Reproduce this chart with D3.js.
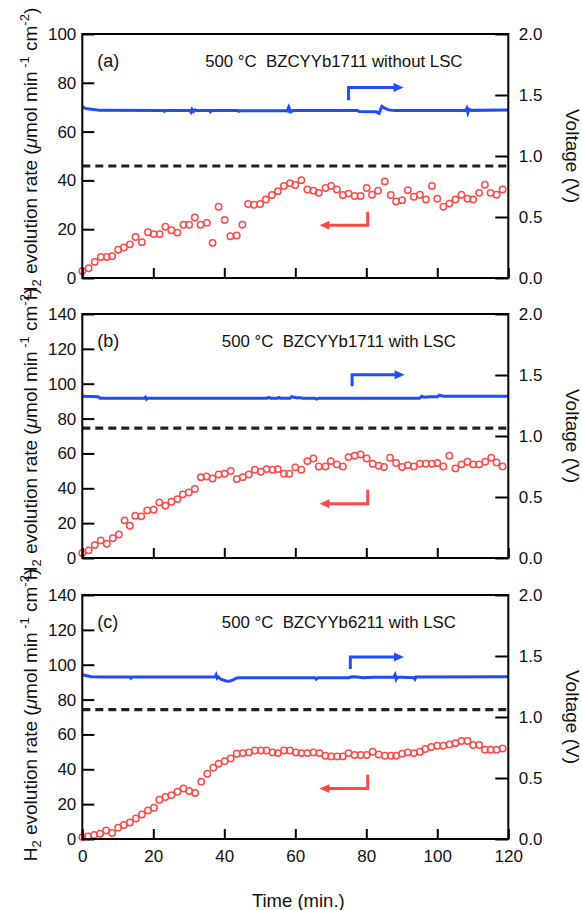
<!DOCTYPE html>
<html>
<head>
<meta charset="utf-8">
<script src="https://cdn.jsdelivr.net/npm/d3@7.9.0/dist/d3.min.js"></script>
<style>
  html, body { margin: 0; padding: 0; background: #fff; }
  svg { display: block; font-family: "Liberation Sans", Arial, sans-serif; }
</style>
</head>
<body>
<svg id="chart" width="582" height="910"></svg>
<script>
// ---- data ----
const timeTicks = [0, 20, 40, 60, 80, 100, 120];
const voltTicks = [0, 0.5, 1.0, 1.5, 2.0];
const rateMax = [100, 140, 140];
const panelTags = ['(a)', '(b)', '(c)'];
const panelTitles = [
  '500 \u00B0C  BZCYYb1711 without LSC',
  '500 \u00B0C  BZCYYb1711 with LSC',
  '500 \u00B0C  BZCYYb6211 with LSC'
];
// dashed reference level (V)
const dashedVolt = [0.918, 1.064, 1.06];

// H2 evolution rate (open red circles)
const timeA = [0, 1.8, 3.5, 5.2, 6.9, 8.4, 10.1, 11.7, 13.4, 15.0, 16.8, 18.5, 20.1, 21.8, 23.4, 25.1, 26.8, 28.5, 30.1, 31.7, 33.3, 35.1, 36.7, 38.4, 40.1, 41.7, 43.5, 45.1, 46.7, 48.4, 50.1, 51.7, 53.4, 55.1, 56.8, 58.5, 60.0, 61.7, 63.4, 65.1, 66.6, 68.5, 70.1, 71.7, 73.4, 75.0, 76.7, 78.4, 80.1, 81.6, 83.3, 85.2, 86.9, 88.4, 90.1, 91.7, 93.4, 95.1, 96.8, 98.5, 100.0, 101.7, 103.4, 105.1, 106.8, 108.5, 110.1, 111.8, 113.4, 115.0, 116.7, 118.4];
const rateA = [2.9, 4.0, 6.6, 8.6, 8.6, 8.9, 11.6, 12.5, 13.8, 16.8, 14.7, 18.8, 18.0, 18.0, 21.0, 19.6, 18.6, 21.8, 21.8, 24.8, 21.8, 22.6, 14.4, 29.2, 23.8, 17.1, 17.4, 21.8, 30.3, 30.0, 30.3, 32.2, 34.0, 35.6, 37.7, 38.9, 38.1, 40.1, 36.3, 35.8, 34.9, 36.9, 37.7, 36.3, 34.0, 34.6, 33.6, 33.6, 36.9, 34.1, 35.8, 39.6, 34.0, 31.4, 31.9, 36.0, 33.3, 34.1, 32.2, 37.7, 32.5, 29.2, 30.5, 32.2, 34.1, 32.5, 32.2, 34.9, 38.2, 34.9, 34.1, 36.3];

const timeB = [0, 1.8, 3.5, 5.2, 6.9, 8.6, 10.3, 11.9, 13.4, 14.9, 16.6, 18.3, 20.1, 21.7, 23.4, 25.1, 26.8, 28.3, 30.0, 31.7, 33.4, 35.0, 36.7, 38.4, 40.1, 41.8, 43.5, 45.2, 46.9, 48.6, 50.3, 51.9, 53.6, 55.1, 56.8, 58.3, 60.0, 61.7, 63.4, 65.1, 66.6, 68.5, 70.0, 71.7, 73.4, 75.0, 76.7, 78.4, 80.1, 81.8, 83.5, 85.0, 86.7, 88.4, 90.1, 91.7, 93.4, 95.1, 96.8, 98.5, 100.0, 101.7, 103.4, 105.1, 106.8, 108.5, 110.1, 111.8, 113.5, 115.2, 116.7, 118.4];
const rateB = [2.9, 4.4, 7.4, 10.1, 8.2, 11.3, 13.5, 21.6, 18.5, 24.3, 23.9, 27.3, 27.7, 31.9, 30.0, 32.3, 33.8, 36.5, 37.6, 39.6, 46.4, 46.8, 45.6, 47.9, 48.3, 49.9, 45.3, 46.4, 47.9, 50.6, 49.5, 51.0, 50.6, 51.0, 48.3, 48.3, 52.0, 50.6, 55.6, 57.1, 52.5, 52.5, 55.6, 53.7, 52.5, 57.9, 58.7, 59.4, 57.1, 54.1, 52.9, 52.2, 57.5, 54.5, 52.2, 53.3, 52.5, 54.1, 54.1, 54.1, 54.5, 52.5, 58.7, 51.4, 53.7, 55.2, 53.7, 53.7, 55.2, 57.5, 54.8, 52.5];

const timeC = [0, 1.6, 3.3, 5.0, 6.7, 8.4, 10.1, 11.7, 13.4, 15.1, 16.8, 18.5, 20.2, 21.7, 23.4, 25.1, 26.8, 28.5, 30.1, 31.8, 33.5, 35.2, 36.9, 38.4, 40.1, 41.8, 43.5, 45.2, 46.9, 48.6, 50.3, 51.9, 53.6, 55.1, 56.8, 58.5, 60.2, 61.7, 63.4, 65.1, 66.8, 68.5, 70.1, 71.8, 73.4, 75.0, 76.7, 78.4, 80.1, 81.8, 83.5, 85.2, 86.9, 88.4, 90.1, 91.7, 93.4, 95.1, 96.6, 98.3, 100.0, 101.7, 103.4, 105.1, 106.8, 108.5, 110.1, 111.8, 113.4, 115.0, 116.7, 118.4];
const rateC = [1.1, 1.5, 2.3, 3.0, 4.9, 3.4, 6.5, 8.0, 9.5, 11.8, 14.1, 16.4, 17.9, 22.5, 24.1, 25.2, 27.1, 29.0, 27.5, 26.4, 32.9, 37.4, 40.9, 43.2, 44.7, 46.2, 48.9, 49.3, 49.7, 50.8, 50.8, 50.8, 49.7, 49.3, 50.8, 50.8, 49.7, 49.3, 49.3, 49.7, 49.3, 47.8, 47.4, 47.4, 47.4, 49.3, 48.2, 48.2, 48.2, 50.1, 48.5, 47.8, 47.8, 47.8, 48.9, 49.7, 49.3, 50.1, 51.6, 52.8, 53.5, 53.5, 54.2, 55.0, 56.2, 56.2, 53.9, 53.9, 51.2, 51.2, 51.2, 51.9];

// cell voltage (blue line)
const voltTimeA = [0, 0.8, 2, 5, 22.8, 23.1, 23.4, 30.3, 30.6, 30.9, 31.3, 31.7, 32.1, 35.8, 36.1, 36.4, 43.8, 44.1, 44.4, 57.8, 58.0, 58.2, 58.4, 58.7, 59.3, 77.5, 78, 82.8, 83.6, 84.4, 85.3, 86.3, 88, 108.0, 108.3, 108.6, 108.9, 109.5, 120];
const voltA = [1.402, 1.39, 1.385, 1.374, 1.372, 1.366, 1.372, 1.372, 1.36, 1.382, 1.364, 1.378, 1.372, 1.372, 1.362, 1.372, 1.372, 1.366, 1.37, 1.372, 1.388, 1.356, 1.384, 1.362, 1.372, 1.372, 1.364, 1.362, 1.35, 1.408, 1.39, 1.378, 1.372, 1.374, 1.39, 1.356, 1.384, 1.374, 1.378];

const voltTimeB = [0, 4.5, 5, 17.5, 17.8, 18.1, 18.4, 52, 52.5, 53, 55, 55.4, 55.8, 58.5, 59, 59.6, 60.5, 61, 62, 65.5, 66, 66.6, 95, 95.6, 96.2, 98, 100, 100.6, 101.2, 102, 120];
const voltB = [1.325, 1.322, 1.31, 1.31, 1.318, 1.302, 1.31, 1.31, 1.316, 1.31, 1.31, 1.316, 1.31, 1.31, 1.322, 1.318, 1.312, 1.316, 1.31, 1.31, 1.302, 1.31, 1.31, 1.325, 1.318, 1.322, 1.322, 1.335, 1.33, 1.325, 1.325];

const voltTimeC = [0, 1, 2.5, 6, 13.4, 13.7, 14, 37.4, 37.7, 38, 38.4, 39, 40.5, 41.5, 42.5, 43.5, 44.5, 65.5, 65.9, 66.4, 75, 76, 77.5, 79, 82, 87.8, 88.1, 88.4, 88.8, 93.4, 93.7, 94, 120];
const voltC = [1.347, 1.34, 1.33, 1.328, 1.328, 1.318, 1.328, 1.328, 1.345, 1.318, 1.328, 1.31, 1.295, 1.293, 1.305, 1.32, 1.322, 1.322, 1.31, 1.322, 1.322, 1.33, 1.328, 1.322, 1.325, 1.328, 1.345, 1.31, 1.328, 1.322, 1.31, 1.328, 1.33];

// arrow annotations: [x0 (min), y0, y1, x1 (min)]
const blueArrows = [[75.0, 1.457, 1.561, 90.5], [76.0, 1.407, 1.502, 90.8], [75.5, 1.393, 1.492, 90.6]]; // in V
const redArrows = [[80.4, 27.2, 21.6, 66.8], [80.4, 39.2, 31.1, 66.8], [80.4, 36.9, 29.0, 66.8]];   // in rate units

const panels = [
  { time: timeA, rate: rateA, vt: voltTimeA, v: voltA },
  { time: timeB, rate: rateB, vt: voltTimeB, v: voltB },
  { time: timeC, rate: rateC, vt: voltTimeC, v: voltC }
];

// ---- layout ----
const left = 82.3, right = 508.3;
const tops = [34, 314, 595];
const ph = 244;
const red = '#ff4a4a', blue = '#1e4dff';
const fontSize = 17;
const titleSize = 19;

const svg = d3.select('#chart');
const x = d3.scaleLinear().domain([0, 120]).range([left, right]);

panels.forEach((p, i) => {
  const top = tops[i], bottom = top + ph;
  const yL = d3.scaleLinear().domain([0, rateMax[i]]).range([bottom, top]);
  const yR = d3.scaleLinear().domain([0, 2]).range([bottom, top]);
  const g = svg.append('g');

  // dashed reference line
  g.append('line')
    .attr('x1', x(0)).attr('x2', x(120))
    .attr('y1', yR(dashedVolt[i])).attr('y2', yR(dashedVolt[i]))
    .attr('stroke', '#222').attr('stroke-width', 3.2)
    .attr('stroke-dasharray', '8,5');

  // voltage line
  const line = d3.line().x((d, k) => x(p.vt[k])).y(d => yR(d));
  g.append('path')
    .attr('d', line(p.v))
    .attr('fill', 'none').attr('stroke', blue).attr('stroke-width', 3);

  // rate circles
  g.selectAll('circle.rate')
    .data(p.rate)
    .join('circle')
    .attr('class', 'rate')
    .attr('cx', (d, k) => x(p.time[k]))
    .attr('cy', d => yL(d))
    .attr('r', 3.2)
    .attr('fill', 'none').attr('stroke', red).attr('stroke-width', 1.5);

  // left axis
  const axL = d3.axisLeft(yL).tickValues(d3.range(0, rateMax[i] + 1, 20))
    .tickSize(-12).tickPadding(6);
  const gl = g.append('g').attr('transform', `translate(${left},0)`).call(axL);

  // right axis
  const axR = d3.axisRight(yR).tickValues(voltTicks).tickFormat(d3.format('.1f'))
    .tickSize(-13).tickPadding(10.5);
  const gr = g.append('g').attr('transform', `translate(${right},0)`).call(axR);

  // bottom axis
  const axB = d3.axisBottom(x).tickValues(timeTicks).tickSize(-10).tickPadding(11);
  if (i < 2) axB.tickFormat('');
  const gb = g.append('g').attr('transform', `translate(0,${bottom})`).call(axB);

  [gl, gr, gb].forEach(a => {
    a.select('.domain').remove();
    a.selectAll('line').attr('stroke', '#000').attr('stroke-width', 2);
    a.selectAll('text').attr('font-size', fontSize).attr('fill', '#111')
      .attr('font-family', '"Liberation Sans", Arial, sans-serif');
  });

  // frame
  g.append('rect')
    .attr('x', left).attr('y', top).attr('width', right - left).attr('height', ph)
    .attr('fill', 'none').attr('stroke', '#000').attr('stroke-width', 2);

  // panel tag and title
  g.append('text').attr('x', x(4.2)).attr('y', top + 33)
    .attr('font-size', 18).attr('fill', '#111').text(panelTags[i]);
  g.append('text').attr('x', i === 0 ? x(34.6) : x(39.3)).attr('y', top + 33)
    .attr('font-size', 16.8).attr('fill', '#111')
    .style('white-space', 'pre').text(panelTitles[i]);

  // blue arrow (points right to voltage axis)
  const ba = blueArrows[i];
  g.append('path')
    .attr('d', `M${x(ba[0])},${yR(ba[1])}V${yR(ba[2])}H${x(ba[3]) - 8}`)
    .attr('fill', 'none').attr('stroke', blue).attr('stroke-width', 3);
  g.append('path')
    .attr('d', `M${x(ba[3])},${yR(ba[2])}l-10,-4.5v9z`)
    .attr('fill', blue);

  // red arrow (points left to rate axis)
  const ra = redArrows[i];
  g.append('path')
    .attr('d', `M${x(ra[0])},${yL(ra[1])}V${yL(ra[2])}H${x(ra[3]) + 8}`)
    .attr('fill', 'none').attr('stroke', red).attr('stroke-width', 3);
  g.append('path')
    .attr('d', `M${x(ra[3])},${yL(ra[2])}l10,-4.5v9z`)
    .attr('fill', red);

  // left axis title
  const cy = (top + bottom) / 2;
  const lt = svg.append('text')
    .attr('transform', `translate(37,${cy - 2}) rotate(-90)`)
    .attr('text-anchor', 'middle').attr('font-size', titleSize).attr('fill', '#111');
  lt.append('tspan').text('H');
  lt.append('tspan').attr('dy', 4).attr('font-size', 13).text('2');
  lt.append('tspan').attr('dy', -4).text(' evolution rate (');
  lt.append('tspan').attr('font-style', 'italic').text('\u03BC');
  lt.append('tspan').text('mol min');
  lt.append('tspan').attr('dy', -8).attr('font-size', 13).text(' -1');
  lt.append('tspan').attr('dy', 8).text(' cm');
  lt.append('tspan').attr('dy', -8).attr('font-size', 13).text('-2');
  lt.append('tspan').attr('dy', 8).text(')');

  // right axis title
  svg.append('text')
    .attr('transform', `translate(566,${cy}) rotate(90)`)
    .attr('text-anchor', 'middle').attr('font-size', titleSize).attr('fill', '#111')
    .text('Voltage (V)');
});

svg.append('text')
  .attr('x', (left + right) / 2 + 3).attr('y', 907)
  .attr('text-anchor', 'middle').attr('font-size', 18.5).attr('fill', '#111')
  .text('Time (min.)');
</script>
</body>
</html>
